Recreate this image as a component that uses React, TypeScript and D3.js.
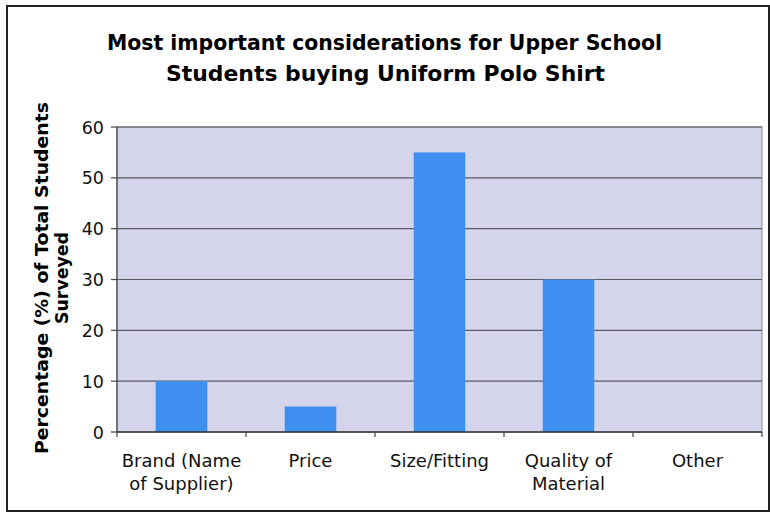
import React from "react";
import * as d3 from "d3";

const categories: string[][] = [
  ["Brand (Name", "of Supplier)"],
  ["Price"],
  ["Size/Fitting"],
  ["Quality of", "Material"],
  ["Other"],
];
const values: number[] = [10, 5, 55, 30, 0];
const yTicks: number[] = [0, 10, 20, 30, 40, 50, 60];
const titleLines: string[] = [
  "Most important considerations for Upper School",
  "Students buying Uniform Polo Shirt",
];
const yTitleLines: string[] = ["Percentage (%) of Total Students", "Surveyed"];

export default function App() {
  const W = 770;
  const H = 512;
  const left = 117;
  const right = 762;
  const top = 127;
  const bottom = 432;
  const font = "Verdana, 'DejaVu Sans', sans-serif";

  const x = d3
    .scaleBand<number>()
    .domain(values.map((_, i) => i))
    .range([left, right])
    .paddingInner(0.6)
    .paddingOuter(0.3);
  const band = (right - left) / values.length;
  const y = d3.scaleLinear().domain([0, 60]).range([bottom, top]);

  return (
    <svg
      width={W}
      height={H}
      style={{ position: "absolute", left: 0, top: 0, background: "#fff" }}
    >
      <rect x={0} y={0} width={W} height={H} fill="#fff" />
      <rect x={7} y={6} width={762} height={505} fill="none" stroke="#222" strokeWidth={2} />
      {/* Title */}
      {titleLines.map((t, i) => (
        <text
          key={i}
          x={(i === 0 ? 384.5 : 385.5)}
          y={50 + i * 31}
          textAnchor="middle"
          fontFamily={font}
          fontWeight="bold"
          fontSize={21}
          fill="#000"
          textLength={i === 0 ? 555 : 439}
          lengthAdjust="spacingAndGlyphs"
        >
          {t}
        </text>
      ))}
      {/* Plot background */}
      <rect x={left} y={top} width={right - left} height={bottom - top} fill="#d4d4eb" stroke="#8a8a9a" strokeWidth={1} />
      {/* Gridlines */}
      {yTicks.filter((v) => v > 0).map((v) => (
        <line key={v} x1={left} x2={right} y1={y(v)} y2={y(v)} stroke="#5a5a60" strokeWidth={1.1} />
      ))}
      {/* Bars */}
      {values.map((v, i) => (
        <rect
          key={i}
          x={left + band * i + band * 0.3}
          y={y(v)}
          width={band * 0.4}
          height={bottom - y(v)}
          fill="#3e8ff0"
        />
      ))}
      {/* Axes */}
      <line x1={left} x2={left} y1={top} y2={bottom} stroke="#444" strokeWidth={1.2} />
      <line x1={left} x2={right} y1={bottom} y2={bottom} stroke="#333" strokeWidth={1.6} />
      {yTicks.map((v) => (
        <g key={v}>
          <line x1={left - 6} x2={left} y1={y(v)} y2={y(v)} stroke="#444" strokeWidth={1.2} />
          <text
            x={left - 13}
            y={y(v) + 6.5}
            textAnchor="end"
            fontFamily={font}
            fontSize={17.5}
            fill="#111"
          >
            {v}
          </text>
        </g>
      ))}
      {d3.range(values.length + 1).map((i) => (
        <line
          key={i}
          x1={left + band * i}
          x2={left + band * i}
          y1={bottom}
          y2={bottom + 5}
          stroke="#444"
          strokeWidth={1.2}
        />
      ))}
      {/* X labels */}
      {categories.map((lines, i) => (
        <text
          key={i}
          x={(x(i) ?? 0) + x.bandwidth() / 2}
          textAnchor="middle"
          fontFamily={font}
          fontSize={18}
          fill="#111"
        >
          {lines.map((l, j) => (
            <tspan key={j} x={(x(i) ?? 0) + x.bandwidth() / 2} y={467 + j * 23}>
              {l}
            </tspan>
          ))}
        </text>
      ))}
      {/* Y title */}
      {yTitleLines.map((t, i) => (
        <text
          key={i}
          transform={`translate(${48 + i * 20}, 278) rotate(-90)`}
          textAnchor="middle"
          fontFamily={font}
          fontWeight="bold"
          fontSize={18.5}
          fill="#000"
          textLength={i === 0 ? 352 : 92}
          lengthAdjust="spacingAndGlyphs"
        >
          {t}
        </text>
      ))}
    </svg>
  );
}
